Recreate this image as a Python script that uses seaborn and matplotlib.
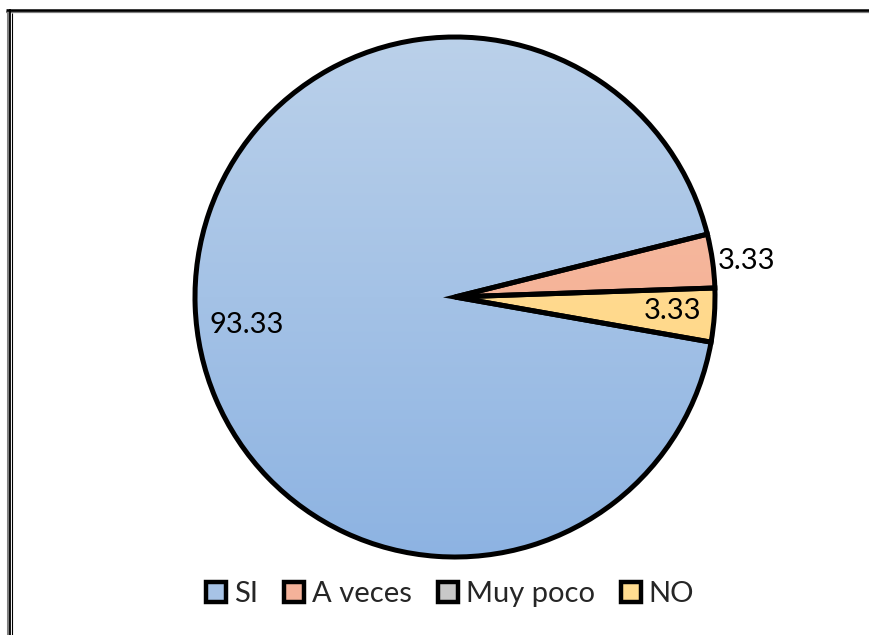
import numpy as np
import matplotlib
matplotlib.use("Agg")
import matplotlib.pyplot as plt
import matplotlib.patches as mpatches
from matplotlib.colors import to_rgb
import seaborn as sns

# Survey answers (percent)
categories = ["SI", "A veces", "Muy poco", "NO"]
values = [93.33, 3.33, 0.0, 3.33]

sns.set_theme(style="white")
plt.rcParams["font.family"] = ["Lato", "DejaVu Sans"]

# top / bottom shades of each slice's vertical gradient
top_colors = ["#bbd1ea", "#f8c3ab", "#d6d6d6", "#ffe2a3"]
bottom_colors = ["#8db3e2", "#f2a486", "#b8b8b8", "#ffd27a"]
legend_colors = ["#a7c3e6", "#f4b29a", "#c8c8c8", "#ffdc90"]

W, H = 869, 635
fig = plt.figure(figsize=(W / 100, H / 100), dpi=100)
ax = fig.add_axes([0, 0, 1, 1])

cx, cy, R = 455, H - 297, 260
explode = [0, 0.022, 0, 0]

wedges, _ = ax.pie(
    values, center=(cx, cy), radius=R, startangle=-10, counterclock=False,
    explode=explode, colors=legend_colors,
    wedgeprops=dict(edgecolor="black", linewidth=3.6, joinstyle="miter"),
)

# vertical gradient fill clipped to each wedge
for w, c0, c1, v in zip(wedges, top_colors, bottom_colors, values):
    if v <= 0:
        w.set_visible(False)
        continue
    a, b = np.array(to_rgb(c0)), np.array(to_rgb(c1))
    t = np.linspace(0, 1, 256)[:, None, None]
    grad = a * (1 - t) + b * t
    wcx, wcy = w.center
    img = ax.imshow(grad, extent=(wcx - R - 2, wcx + R + 2, wcy - R - 2, wcy + R + 2),
                    origin="upper", aspect="auto", zorder=w.get_zorder() - 0.1,
                    interpolation="bilinear")
    img.set_clip_path(w)
    w.set_facecolor("none")

# value labels: (radial distance, angular offset in degrees)
label_pos = {"SI": (0.81, 5.7), "A veces": (1.13, -1.0), "NO": (0.84, 0.3)}
for w, cat, v in zip(wedges, categories, values):
    if v <= 0 or cat not in label_pos:
        continue
    dist, off = label_pos[cat]
    mid = np.deg2rad((w.theta1 + w.theta2) / 2 + off)
    wcx, wcy = w.center
    ax.text(wcx + dist * R * np.cos(mid), wcy + dist * R * np.sin(mid), f"{v:.2f}",
            ha="center", va="center", fontsize=21, color="black", zorder=5)

ax.set_xlim(0, W)
ax.set_ylim(0, H)
ax.set_aspect("equal")
ax.axis("off")

# chart border (double line on top and left)
ax.plot([7.5, 7.5], [0, H - 9], color="#808080", lw=2.2, solid_capstyle="butt")
ax.plot([6, W], [H - 11.8, H - 11.8], color="#808080", lw=1.6, solid_capstyle="butt")
ax.plot([9.8, 9.8], [0, H - 9], color="black", lw=1.3, solid_capstyle="butt")
ax.plot([6, W], [H - 9.6, H - 9.6], color="black", lw=1.8, solid_capstyle="butt")
ax.plot([11.6, 11.6], [0, H - 12.5], color="black", lw=0.8, solid_capstyle="butt")

handles = [mpatches.Patch(facecolor=c, edgecolor="black", linewidth=3.2) for c in legend_colors]
fig.legend(handles, categories, loc="center", bbox_to_anchor=(450 / W, 1 - 594 / H),
           ncol=4, frameon=False, fontsize=21, handlelength=0.7, handleheight=0.7,
           handletextpad=0.25, columnspacing=0.9, borderpad=0)

fig.savefig("out.png", dpi=100)
